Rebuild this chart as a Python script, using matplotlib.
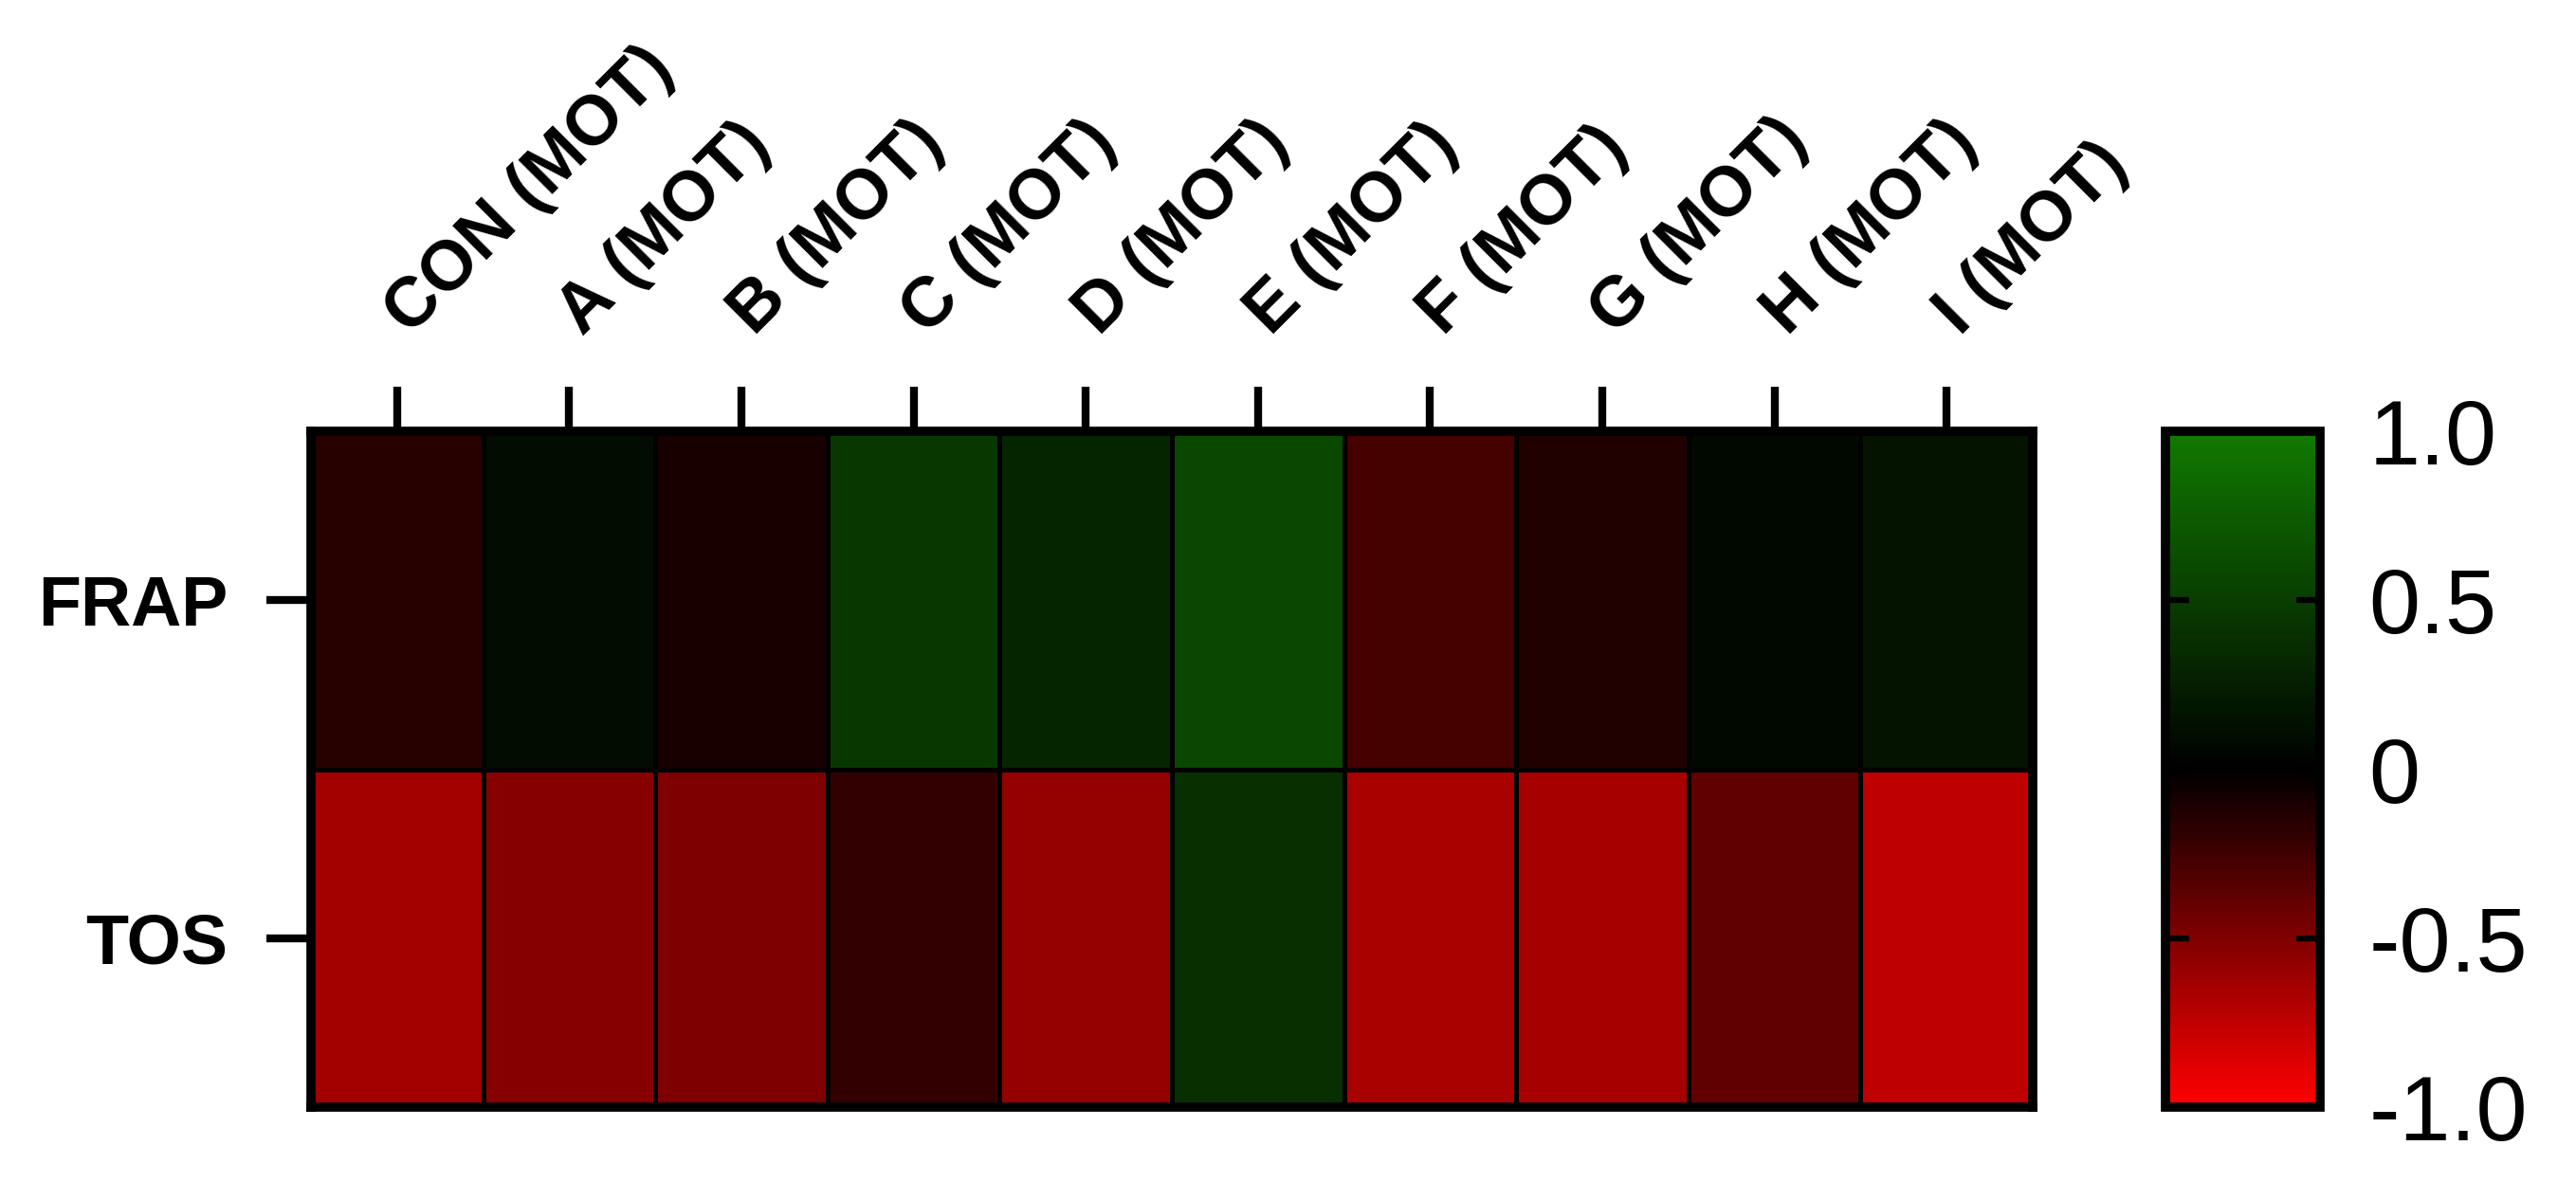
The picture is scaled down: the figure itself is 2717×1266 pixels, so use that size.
import numpy as np
import matplotlib
matplotlib.use("Agg")
import matplotlib.pyplot as plt
from matplotlib.colors import LinearSegmentedColormap

plt.rcParams['font.family'] = ['Liberation Sans', 'DejaVu Sans']

# --- data ---
groups = ["CON (MOT)", "A (MOT)", "B (MOT)", "C (MOT)", "D (MOT)",
          "E (MOT)", "F (MOT)", "G (MOT)", "H (MOT)", "I (MOT)"]
rows = ["FRAP", "TOS"]
frap = [-0.15, 0.10, -0.10, 0.46, 0.30, 0.58, -0.27, -0.13, 0.07, 0.15]
tos = [-0.64, -0.53, -0.50, -0.20, -0.58, 0.39, -0.66, -0.65, -0.38, -0.75]
cbar_ticks = [-1.0, -0.5, 0.0, 0.5, 1.0]
cbar_labels = ["-1.0", "-0.5", "0", "0.5", "1.0"]

values = np.array([frap, tos])
cmap = LinearSegmentedColormap.from_list("red_black_green",
                                         ["#FF0000", "#000000", "#117A00"])

fig = plt.figure(figsize=(27.17, 12.66), dpi=100)
ax = fig.add_axes([0.1207, 0.0774, 0.6684, 0.5632])
cax = fig.add_axes([0.8406, 0.0774, 0.0600, 0.5632])

mesh = ax.pcolormesh(values, cmap=cmap, vmin=-1, vmax=1,
                     edgecolors="black", linewidth=3.5)
ax.set_xlim(0, len(groups))
ax.set_ylim(len(rows), 0)

ax.xaxis.tick_top()
ax.set_xticks(np.arange(len(groups)) + 0.5)
ax.set_xticklabels(groups, rotation=45, ha="left", va="center",
                   rotation_mode="anchor", fontsize=53, fontweight="bold")
ax.set_yticks(np.arange(len(rows)) + 0.5)
ax.set_yticklabels(rows, fontsize=53, fontweight="bold")
ax.tick_params(axis="x", length=34, width=6, pad=48)
ax.tick_params(axis="y", length=34, width=6, pad=29)
for sp in ax.spines.values():
    sp.set_linewidth(7)

cbar = fig.colorbar(mesh, cax=cax)
cbar.set_ticks(cbar_ticks)
cbar.set_ticklabels(cbar_labels)
cbar.outline.set_linewidth(7)
cax.tick_params(direction="in", left=True, right=True, length=18, width=4.5,
                labelsize=70, pad=37)

fig.savefig("out.png", dpi=100)
